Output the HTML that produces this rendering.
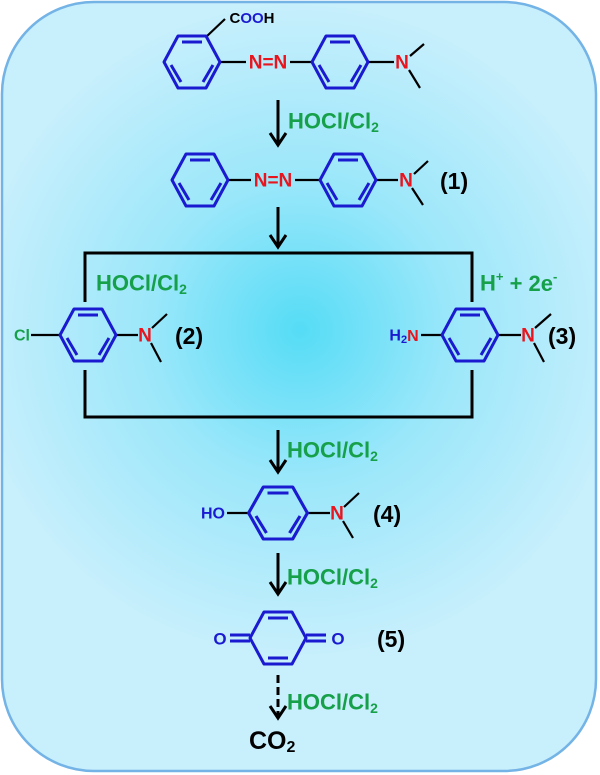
<!DOCTYPE html>
<html><head><meta charset="utf-8"><style>
html,body{margin:0;padding:0;background:#fff;}
svg{display:block;font-family:"Liberation Sans",Arial,sans-serif;font-weight:bold;}
</style></head><body>
<svg width="600" height="775" viewBox="0 0 600 775" xmlns="http://www.w3.org/2000/svg">
<defs>
<radialGradient id="bg" cx="300" cy="330" r="330" gradientUnits="userSpaceOnUse">
<stop offset="0" stop-color="#55dcf6"/>
<stop offset="0.45" stop-color="#9ae7fa"/>
<stop offset="1" stop-color="#c8effc"/>
</radialGradient>
<g id="benz" fill="none" stroke="#1a1ad0" stroke-width="3" stroke-linejoin="round">
<path d="M-28,0 L-14,-26 L14,-26 L28,0 L14,26 L-14,26 Z"/>
<path d="M-10,-20 L10,-20 M21,3 L11,20 M-21,3 L-11,20"/>
</g>
</defs>
<rect x="2" y="2" width="594" height="769" rx="92" fill="url(#bg)" stroke="#74b3e6" stroke-width="2.5"/>

<g stroke="#000" stroke-width="2.2" fill="none">
<path d="M206,37 L225,19"/>
<path d="M220,62 L246,62 M290,62 L312,62 M368,62 L394,62"/>
<path d="M410,56 L424,44 M409,70 L420,88"/>
<path d="M228,180 L251,180 M295,180 L320,180 M376,180 L398,180"/>
<path d="M414,174 L428,161 M412,188 L423,205"/>
<path d="M85,302 L85,253 L472,253 L472,302 M85,370 L85,417 L472,417 L472,370" stroke-width="3"/>
<path d="M31,335 L60,335 M116,335 L138,335 M152,328 L167,314 M151,343 L161,362"/>
<path d="M421,335 L442,335 M498,335 L521,335 M535,328 L551,314 M534,343 L544,362"/>
<path d="M227,513 L250,513 M306,513 L330,513 M344,507 L359,493 M343,521 L353,538"/>
</g>

<g stroke="#000" stroke-width="3" fill="none">
<path d="M278,100 L278,143"/><path d="M270,133 L278,145 L286,133"/>
<path d="M278,207 L278,245"/><path d="M270,235 L278,247 L286,235"/>
<path d="M278,430 L278,470"/><path d="M270,460 L278,472 L286,460"/>
<path d="M278,553 L278,592"/><path d="M270,582 L278,594 L286,582"/>
<path d="M278,675 L278,715" stroke-dasharray="8,4"/><path d="M270,706 L278,718 L286,706"/>
</g>

<use href="#benz" transform="translate(192,62)"/>
<use href="#benz" transform="translate(340,62)"/>
<use href="#benz" transform="translate(200,180)"/>
<use href="#benz" transform="translate(348,180)"/>
<use href="#benz" transform="translate(88,335)"/>
<use href="#benz" transform="translate(470,335)"/>
<use href="#benz" transform="translate(278,513) scale(1.05,1)"/>
<g transform="translate(278,638)" fill="none" stroke="#1a1ad0" stroke-width="3" stroke-linejoin="round">
<path d="M-28,0 L-14,-26 L14,-26 L28,0 L14,26 L-14,26 Z"/>
<path d="M-10,-20 L10,-20 M-10,20 L10,20"/>
<path d="M-28,-3 L-48,-3 M-28,3 L-48,3 M28,-3 L48,-3 M28,3 L48,3"/>
</g>

<g font-size="19" text-anchor="middle" dominant-baseline="central">
<text x="252" y="18" font-size="15"><tspan fill="#000">C</tspan><tspan fill="#1a1ad0">OO</tspan><tspan fill="#000">H</tspan></text>
<text x="268" y="63" fill="#e8141e">N=N</text>
<text x="402" y="63" fill="#e8141e">N</text>
<text x="273" y="181" fill="#e8141e">N=N</text>
<text x="406" y="181" fill="#e8141e">N</text>
<text x="145" y="336" fill="#e8141e">N</text>
<text x="22" y="336" fill="#17a04a" font-size="16">Cl</text>
<text x="528" y="336" fill="#e8141e">N</text>
<text x="404" y="336" fill="#1a1ad0" font-size="16">H<tspan font-size="11" dy="4">2</tspan><tspan dy="-4" fill="#e8141e">N</tspan></text>
<text x="337" y="514" fill="#e8141e">N</text>
<text x="213" y="514" fill="#1a1ad0" font-size="16">HO</text>
<text x="220" y="639" fill="#1a1ad0" font-size="17">O</text>
<text x="338" y="639" fill="#1a1ad0" font-size="17">O</text>
</g>

<g font-size="23" fill="#000" dominant-baseline="central">
<text x="440" y="181">(1)</text>
<text x="175" y="336">(2)</text>
<text x="548" y="336">(3)</text>
<text x="373" y="514">(4)</text>
<text x="377" y="639">(5)</text>
<text x="249" y="741" font-size="25">CO<tspan font-size="16" dy="6">2</tspan></text>
</g>

<g font-size="22" fill="#17a04a" dominant-baseline="central">
<text x="288" y="121">HOCl/Cl<tspan font-size="14" dy="6">2</tspan></text>
<text x="96" y="283">HOCl/Cl<tspan font-size="14" dy="6">2</tspan></text>
<text x="480" y="283">H<tspan font-size="13" dy="-7">+</tspan><tspan dy="7"> +  2e</tspan><tspan font-size="13" dy="-7">-</tspan></text>
<text x="287" y="450">HOCl/Cl<tspan font-size="14" dy="6">2</tspan></text>
<text x="287" y="577">HOCl/Cl<tspan font-size="14" dy="6">2</tspan></text>
<text x="287" y="702">HOCl/Cl<tspan font-size="14" dy="6">2</tspan></text>
</g>
</svg>
</body></html>
